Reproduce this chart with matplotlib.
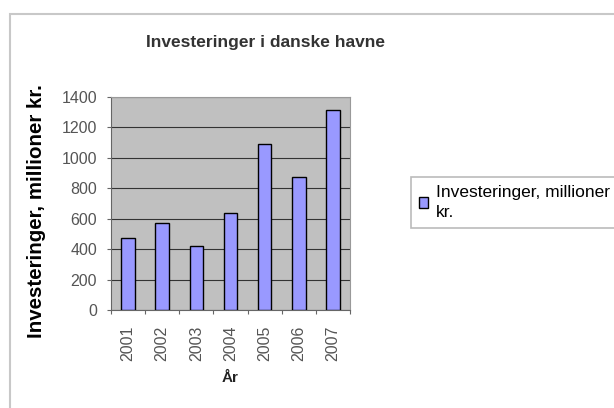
import matplotlib
matplotlib.use("Agg")
import matplotlib.pyplot as plt
from matplotlib.patches import Rectangle
import numpy as np

plt.rcParams['font.family'] = ['Liberation Sans', 'DejaVu Sans']

years = ["2001", "2002", "2003", "2004", "2005", "2006", "2007"]
investments = [472, 575, 422, 636, 1088, 877, 1315]
series_name = "Investeringer, millioner kr."
title = "Investeringer i danske havne"
xlabel = "År"
ylabel = "Investeringer, millioner kr."
yticks = [0, 200, 400, 600, 800, 1000, 1200, 1400]

fig = plt.figure(figsize=(6.14, 4.08), dpi=100)
fig.patch.set_facecolor('white')

# outer chart frame
fig.patches.append(Rectangle((10/614, -0.05), 1.0, 1 - 14/408 + 0.05,
                             transform=fig.transFigure, fill=False,
                             edgecolor='#c8c8c8', linewidth=1.5))

ax = fig.add_axes([111/614, 1 - 310/408, 239/614, 213/408])
ax.set_facecolor('#c0c0c0')
x = np.arange(len(years))
ax.bar(x, investments, width=0.4, color='#9999ff', edgecolor='black',
       linewidth=1.0, label=series_name, zorder=3)
ax.set_xlim(-0.5, len(years) - 0.5)
ax.set_ylim(0, 1400)
ax.set_yticks(yticks)
ax.set_yticklabels([str(v) for v in yticks], fontsize=11.5, color='#555555')
ax.yaxis.grid(True, color='#333333', linewidth=0.8, zorder=1)
ax.set_xticks(np.arange(-0.5, len(years) + 0.5, 1.0))
ax.set_xticklabels([])
ax.set_xticks(x, minor=True)
ax.set_xticklabels(years, minor=True, rotation=90, fontsize=11.5, color='#555555')
ax.tick_params(axis='x', which='minor', length=0, pad=11)
ax.tick_params(axis='x', which='major', length=3, color='#666666', direction='out')
ax.tick_params(axis='y', length=3, color='#666666', direction='out', pad=7)
for side in ['top', 'right']:
    ax.spines[side].set_color('#999999')
for side in ['left', 'bottom']:
    ax.spines[side].set_color('#666666')

ax.set_xlabel(xlabel, fontsize=11, fontweight='bold', color='#222222', labelpad=7)

fig.text(37/614, 1 - 211/408, ylabel, ha='center', va='center', rotation=90,
         fontsize=14.8, fontweight='bold', color='black')

fig.text(266/614, 1 - 42/408, title, ha='center', va='center',
         fontsize=12.5, fontweight='bold', color='#333333')

leg = ax.legend(loc='upper left', bbox_to_anchor=(411/614, 1 - 177/408),
                bbox_transform=fig.transFigure, frameon=True, fancybox=False,
                fontsize=12.5, handlelength=0.55, handleheight=0.55, handletextpad=0.45,
                borderaxespad=0, borderpad=0.45)
leg.get_frame().set_edgecolor('#aaaaaa')
leg.get_frame().set_linewidth(1.2)
t = leg.get_texts()[0]
t.set_text("Investeringer, millioner\nkr.")
t.set_linespacing(1.45)

fig.savefig("out.png", dpi=100)
